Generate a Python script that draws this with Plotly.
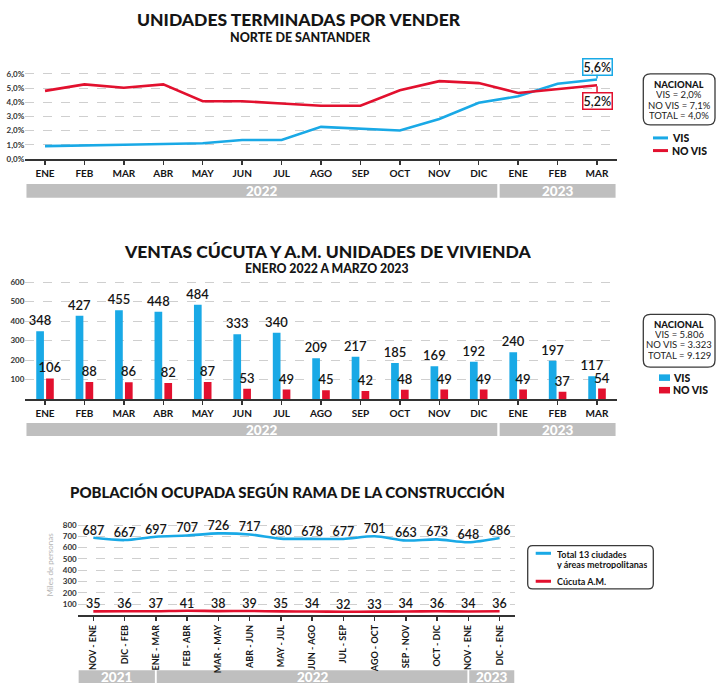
import plotly.graph_objects as go

W, H = 720, 695
FONT = "Lato"
BLUE = "#19A9E6"
RED = "#E2102E"
GRAY_BAND = "#BFBFBF"
DARK = "#151515"

# ---------------- data ----------------
months = ["ENE", "FEB", "MAR", "ABR", "MAY", "JUN", "JUL", "AGO", "SEP", "OCT", "NOV", "DIC", "ENE", "FEB", "MAR"]

# Panel 1: Unidades terminadas por vender (%)
vis_pct = [0.9, 0.93, 1.0, 1.05, 1.1, 1.33, 1.33, 2.26, 2.12, 2.0, 2.82, 3.96, 4.42, 5.3, 5.6]
novis_pct = [4.8, 5.26, 5.02, 5.26, 4.07, 4.07, 3.91, 3.75, 3.75, 4.84, 5.49, 5.35, 4.65, 4.91, 5.2]
pct_ticks = [0, 1, 2, 3, 4, 5, 6]
pct_ticktext = ["0,0%", "1,0%", "2,0%", "3,0%", "4,0%", "5,0%", "6,0%"]
nacional1 = ["NACIONAL", "VIS = 2,0%", "NO VIS = 7,1%", "TOTAL = 4,0%"]

# Panel 2: Ventas Cúcuta y A.M. (unidades)
vis_sales = [348, 427, 455, 448, 484, 333, 340, 209, 217, 185, 169, 192, 240, 197, 117]
novis_sales = [106, 88, 86, 82, 87, 53, 49, 45, 42, 48, 49, 49, 49, 37, 54]
sales_ticks = [100, 200, 300, 400, 500, 600]
nacional2 = ["NACIONAL", "VIS = 5.806", "NO VIS = 3.323", "TOTAL = 9.129"]

# year bands for panels 1 and 2 (category boundaries)
years12 = ["2022", "2023"]
years12_span = [(-0.5, 11.5), (11.5, 14.5)]

# Panel 3: Población ocupada (miles de personas)
periods = ["NOV - ENE", "DIC - FEB", "ENE - MAR", "FEB - ABR", "MAR - MAY", "ABR - JUN", "MAY - JUL",
           "JUN - AGO", "JUL - SEP", "AGO - OCT", "SEP - NOV", "OCT - DIC", "NOV - ENE", "DIC - ENE"]
total13 = [687, 667, 697, 707, 726, 717, 680, 678, 677, 701, 663, 673, 648, 686]
cucuta = [35, 36, 37, 41, 38, 39, 35, 34, 32, 33, 34, 36, 34, 36]
pop_ticks = [100, 200, 300, 400, 500, 600, 700, 800]
years3 = ["2021", "2022", "2023"]
years3_span = [(-0.5, 2), (2, 12), (12, 13.5)]


# ---------------- helpers ----------------
def fx(p):
    return p / W


def fy(p):
    return 1 - p / H


def ann(text, x, y, size, weight="normal", color=DARK, xanchor="center", yanchor="middle", **kw):
    return dict(text=text, x=fx(x), y=fy(y), xref="paper", yref="paper", showarrow=False,
                xanchor=xanchor, yanchor=yanchor,
                font=dict(family=FONT, size=size, color=color, weight=weight), **kw)


def rrect(x0, y0, x1, y1, r):
    pts = [
        ("M", [(x0 + r, y0)]), ("L", [(x1 - r, y0)]), ("Q", [(x1, y0), (x1, y0 + r)]),
        ("L", [(x1, y1 - r)]), ("Q", [(x1, y1), (x1 - r, y1)]),
        ("L", [(x0 + r, y1)]), ("Q", [(x0, y1), (x0, y1 - r)]),
        ("L", [(x0, y0 + r)]), ("Q", [(x0, y0), (x0 + r, y0)]),
    ]
    s = ""
    for cmd, ps in pts:
        s += cmd + " " + " ".join(f"{fx(a):.5f},{fy(b):.5f}" for a, b in ps) + " "
    return s + "Z"


fig = go.Figure()

# ---------------- traces ----------------
x15 = list(range(len(months)))
fig.add_trace(go.Scatter(x=x15, y=vis_pct, mode="lines", line=dict(color=BLUE, width=2.6),
                         xaxis="x", yaxis="y", showlegend=False, hoverinfo="skip"))
fig.add_trace(go.Scatter(x=x15, y=novis_pct, mode="lines", line=dict(color=RED, width=2.6),
                         xaxis="x", yaxis="y", showlegend=False, hoverinfo="skip"))

barfont = dict(family=FONT, size=13, color=DARK, weight=600)
fig.add_trace(go.Bar(x=x15, y=vis_sales, marker=dict(color=BLUE, line=dict(width=0)),
                     text=vis_sales, textposition="outside", textfont=barfont, constraintext="none",
                     cliponaxis=False, xaxis="x2", yaxis="y2", showlegend=False, hoverinfo="skip"))
fig.add_trace(go.Bar(x=x15, y=novis_sales, marker=dict(color=RED, line=dict(width=0)),
                     text=novis_sales, textposition="outside", textfont=barfont, constraintext="none",
                     cliponaxis=False, xaxis="x2", yaxis="y2", showlegend=False, hoverinfo="skip"))

x14 = list(range(len(periods)))
linefont = dict(family=FONT, size=12.5, color=DARK, weight=600)
fig.add_trace(go.Scatter(x=x14, y=total13, mode="lines+text", text=total13, textposition="top center",
                         textfont=linefont, line=dict(color=BLUE, width=2.6, shape="spline", smoothing=0.8),
                         cliponaxis=False, xaxis="x3", yaxis="y3", showlegend=False, hoverinfo="skip"))
fig.add_trace(go.Scatter(x=x14, y=cucuta, mode="lines+text", text=cucuta, textposition="top center",
                         textfont=linefont, line=dict(color=RED, width=2.6, shape="spline", smoothing=0.8),
                         cliponaxis=False, xaxis="x3", yaxis="y3", showlegend=False, hoverinfo="skip"))

# ---------------- axes ----------------
x_left, step12 = 25.3, 39.43
x_right = x_left + step12 * len(months)
grid = dict(showgrid=True, gridcolor="#CFCFCF", griddash="dash", gridwidth=1, zeroline=False, showline=False,
            ticks="", fixedrange=True)
xcommon = dict(showline=True, linecolor="#333333", linewidth=2, ticks="outside", ticklen=4, tickwidth=1.5,
               tickcolor="#333333", showgrid=False, zeroline=False, fixedrange=True)

# panel 1
y0_1, ppu1 = 157.7, 14.33
top1 = 6.3
fig.update_layout(
    xaxis=dict(domain=[fx(x_left), fx(x_right)], range=[-0.5, len(months) - 0.5], anchor="y",
               tickvals=x15, ticktext=months, tickfont=dict(family=FONT, size=10, color=DARK, weight=700),
               **xcommon),
    yaxis=dict(domain=[fy(y0_1), fy(y0_1 - top1 * ppu1)], range=[0, top1], anchor="x",
               tickvals=pct_ticks, ticktext=pct_ticktext,
               tickfont=dict(family=FONT, size=8, color="#333333", weight=700), **grid),
)
# panel 2
y0_2, ppu2 = 400.7, 0.1973
top2 = 620
fig.update_layout(
    xaxis2=dict(domain=[fx(x_left), fx(x_right)], range=[-0.5, len(months) - 0.5], anchor="y2",
                tickvals=x15, ticktext=months, tickfont=dict(family=FONT, size=10, color=DARK, weight=700),
                **xcommon),
    yaxis2=dict(domain=[fy(y0_2), fy(y0_2 - top2 * ppu2)], range=[0, top2], anchor="x2",
                tickvals=sales_ticks, tickfont=dict(family=FONT, size=8, color="#333333", weight=700), **grid),
    bargap=0.5, bargroupgap=0.22, barmode="group",
)
# panel 3
x3_left, step3 = 77.7, 31.25
x3_right = x3_left + step3 * len(periods)
y0_3, ppu3 = 619.5, 0.1142
top3 = 820
fig.update_layout(
    xaxis3=dict(domain=[fx(x3_left), fx(x3_right)], range=[-0.5, len(periods) - 0.5], anchor="y3",
                tickvals=x14, ticktext=periods, tickangle=-90,
                tickfont=dict(family=FONT, size=9, color=DARK, weight=700), **xcommon),
    yaxis3=dict(domain=[fy(y0_3), fy(y0_3 - top3 * ppu3)], range=[0, top3], anchor="x3",
                tickvals=pop_ticks, tickfont=dict(family=FONT, size=8, color="#333333", weight=700), **grid),
)

shapes = []
annotations = []

# ---------------- titles ----------------
annotations += [
    ann("UNIDADES TERMINADAS POR VENDER", 299, 17, 17.5, weight=900, height=19),
    ann("NORTE DE SANTANDER", 300, 34.5, 12.5, weight=900, height=12),
    ann("VENTAS CÚCUTA Y A.M. UNIDADES DE VIVIENDA", 327, 251.5, 17.5, weight=900, height=19),
    ann("ENERO 2022 A MARZO 2023", 327, 268.5, 12.3, weight=900, height=12),
    ann("POBLACIÓN OCUPADA SEGÚN RAMA DE LA CONSTRUCCIÓN", 287, 495, 15, weight=900),
]

# ---------------- callouts panel 1 ----------------
annotations.append(dict(x=x15[-1], y=vis_pct[-1], xref="x", yref="y",
                        text=f"{vis_pct[-1]:.1f}%".replace(".", ","), showarrow=True, arrowhead=0,
                        arrowwidth=1.5, arrowcolor=BLUE, ax=0, ay=-13, standoff=1,
                        bordercolor=BLUE, borderwidth=1.5, borderpad=0, bgcolor="white",
                        font=dict(family=FONT, size=12.5, color=DARK, weight=600)))
annotations.append(dict(x=x15[-1], y=novis_pct[-1], xref="x", yref="y",
                        text=f"{novis_pct[-1]:.1f}%".replace(".", ","), showarrow=True, arrowhead=0,
                        arrowwidth=1.5, arrowcolor=RED, ax=0, ay=16, standoff=1,
                        bordercolor=RED, borderwidth=1.5, borderpad=0, bgcolor="white",
                        font=dict(family=FONT, size=12.5, color=DARK, weight=600)))

# ---------------- NACIONAL boxes ----------------
def nacional_box(lines, x0, y0, x1, y1, line_ys):
    shapes.append(dict(type="path", path=rrect(x0, y0, x1, y1, 7), xref="paper", yref="paper",
                       line=dict(color="#3A3A3A", width=1.3), fillcolor="white", layer="above"))
    cx = (x0 + x1) / 2
    for i, (t, yy) in enumerate(zip(lines, line_ys)):
        annotations.append(ann(t, cx, yy, 9.5, weight=900 if i == 0 else "normal",
                               color=DARK if i == 0 else "#222222", height=10))


nacional_box(nacional1, 643.3, 71.7, 715, 123.3, [81.5, 92.3, 102.7, 113.3])
nacional_box(nacional2, 643.3, 315, 715, 368.3, [324.5, 334.8, 345.2, 355.7])

# ---------------- legends ----------------
# panel 1 (lines)
for col, lab, yy in [(BLUE, "VIS", 136.5), (RED, "NO VIS", 149.3)]:
    shapes.append(dict(type="line", x0=fx(653), x1=fx(668), y0=fy(yy), y1=fy(yy), xref="paper", yref="paper",
                       line=dict(color=col, width=3)))
    annotations.append(ann(lab, 671, yy, 10.5, weight=900, xanchor="left", height=10, borderpad=0))
# panel 2 (squares)
for col, lab, yy in [(BLUE, "VIS", 379), (RED, "NO VIS", 391.7)]:
    shapes.append(dict(type="rect", x0=fx(659), x1=fx(670), y0=fy(yy - 3.3), y1=fy(yy + 3.3),
                       xref="paper", yref="paper", line=dict(width=0), fillcolor=col))
    annotations.append(ann(lab, 671.5, yy, 10.5, weight=900, xanchor="left", height=10, borderpad=0))
# panel 3 (boxed)
shapes.append(dict(type="path", path=rrect(527.7, 549, 653.3, 592.7, 5), xref="paper", yref="paper",
                   line=dict(color="#3A3A3A", width=1.3), fillcolor="white"))
shapes.append(dict(type="line", x0=fx(535.7), x1=fx(551), y0=fy(556.7), y1=fy(556.7), xref="paper",
                   yref="paper", line=dict(color=BLUE, width=3)))
shapes.append(dict(type="line", x0=fx(535.7), x1=fx(551), y0=fy(585), y1=fy(585), xref="paper",
                   yref="paper", line=dict(color=RED, width=3)))
annotations += [
    ann("Total 13 ciudades", 555, 557, 9, weight=700, xanchor="left", height=10),
    ann("y áreas metropolitanas", 555, 567.8, 9, weight=700, xanchor="left", height=10),
    ann("Cúcuta A.M.", 555, 585, 9, weight=700, xanchor="left"),
    ann("Miles de personas", 50, 568, 8, color="#B5B5B5", textangle=-90),
]

# ---------------- year bands ----------------
def year_bands(xref, names, spans, ytop, ybot):
    for name, (a, b) in zip(names, spans):
        shapes.append(dict(type="rect", xref=xref, yref="paper", x0=a + 0.03, x1=b - 0.03,
                           y0=fy(ybot), y1=fy(ytop), fillcolor=GRAY_BAND, line=dict(width=0), layer="below"))
        annotations.append(dict(text=name, x=(a + b) / 2, y=fy((ytop + ybot) / 2), xref=xref, yref="paper",
                                showarrow=False, xanchor="center", yanchor="middle",
                                font=dict(family=FONT, size=13.5, color="white", weight=900)))


year_bands("x", years12, years12_span, 183, 197)
year_bands("x2", years12, years12_span, 425, 438)
year_bands("x3", years3, years3_span, 675, 688)

fig.update_layout(
    width=W, height=H, autosize=False,
    margin=dict(l=0, r=0, t=0, b=0, pad=0),
    paper_bgcolor="white", plot_bgcolor="white",
    showlegend=False,
    shapes=shapes, annotations=annotations,
    font=dict(family=FONT, color=DARK),
)

fig.write_html("out.html", config={"displayModeBar": False, "staticPlot": True},
               post_script="document.body.style.margin='0px';document.body.style.overflow='hidden';")
